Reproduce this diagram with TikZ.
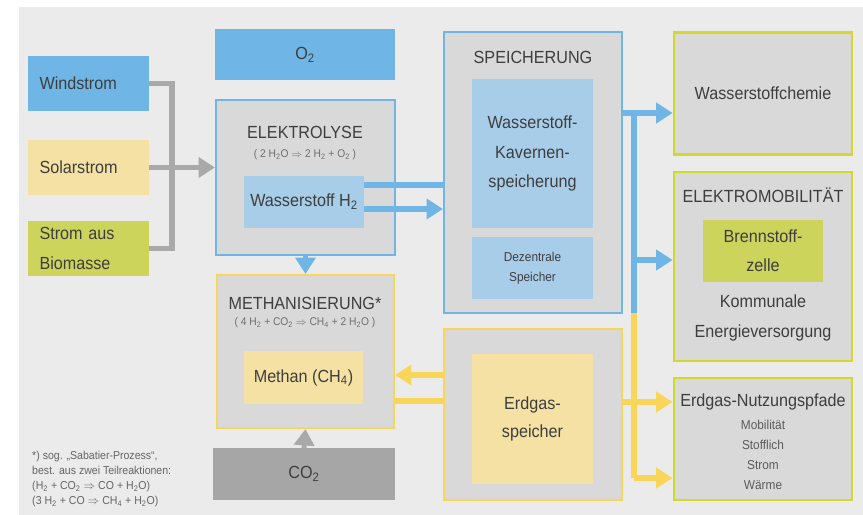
\documentclass[tikz,border=0pt]{standalone}
\usepackage{fontspec}
\setmainfont[FakeStretch=0.92]{Liberation Sans}
\usetikzlibrary{arrows.meta,calc,positioning}

\definecolor{bgc}{HTML}{EBEBEB}
\definecolor{boxgray}{HTML}{D9D9D9}
\definecolor{skyblue}{HTML}{6FB5E5}
\definecolor{paleblue}{HTML}{A8CDE8}
\definecolor{paleyel}{HTML}{F4E1A3}
\definecolor{limefill}{HTML}{CDD45C}
\definecolor{gasyel}{HTML}{F9D65A}
\definecolor{limeline}{HTML}{D4D72C}
\definecolor{arrgray}{HTML}{A9A9A9}
\definecolor{co2gray}{HTML}{A6A6A6}
\definecolor{ink}{HTML}{3E3E3E}

\tikzset{
  panel/.style={draw, line width=1.8pt, inner sep=0pt, align=center, text=ink,
    font=\fontsize{15}{21}\selectfont},
  dims/.style 2 args={minimum width=#1*0.03cm, minimum height=#2*0.03cm},
  boxtext/.style={text=ink, align=center, font=\fontsize{15}{21}\selectfont},
  smalltext/.style={text=ink!85, align=center, font=\fontsize{11}{17}\selectfont},
  formula/.style={text=ink!75, align=center, font=\fontsize{9.5}{11}\selectfont},
  flow/.style={line width=4.3pt},
  >={Triangle[length=14pt,width=17pt]},
}

\begin{document}
\begin{tikzpicture}[x=0.03cm, y=-0.03cm]
    % page and background
    \useasboundingbox (0,0) rectangle (863,515);
    \fill[bgc] (19,7) rectangle (863,515);

    % power sources
    \node[panel, dims={119}{53}, fill=skyblue, draw=skyblue, text width=98*0.03cm, align=left] (wind) at (88.5,83.5) {Windstrom};
    \node[panel, dims={119}{53}, fill=paleyel, draw=paleyel, text width=98*0.03cm, align=left] (solar) at (88.5,167.5) {Solarstrom};
    \node[panel, dims={119}{53}, fill=limefill, draw=limefill, text width=98*0.03cm, align=left, font=\fontsize{15}{25}\selectfont] (bio) at (88.5,248.5) {Strom aus\\Biomasse};

    % electrolysis column
    \node[panel, dims={178}{49}, fill=skyblue, draw=skyblue] (otwo) at (305,54.5) {O\textsubscript{2}};
    \node[panel, dims={179}{155}, fill=boxgray, draw=skyblue] (elek) at (305.5,177.5) {};
    \node[boxtext] (elektitle) at (305,132) {ELEKTROLYSE};
    \node[formula] (elekform) at (305,155) {( 2 H\textsubscript{2}O $\Rightarrow$ 2 H\textsubscript{2} + O\textsubscript{2} )};
    \node[panel, dims={118}{50}, fill=paleblue, draw=paleblue] (htwo) at (304,202) {Wasserstoff H\textsubscript{2}};

    % methanation column
    \node[panel, dims={177}{153}, fill=boxgray, draw=gasyel] (meth) at (305.5,351.5) {};
    \node[boxtext] (methtitle) at (305,303) {METHANISIERUNG*};
    \node[formula] (methform) at (305,323) {( 4 H\textsubscript{2} + CO\textsubscript{2} $\Rightarrow$ CH\textsubscript{4} + 2 H\textsubscript{2}O )};
    \node[panel, dims={117}{51}, fill=paleyel, draw=paleyel] (methan) at (303.5,377.5) {Methan (CH\textsubscript{4})};
    \node[panel, dims={180}{50}, fill=co2gray, draw=co2gray] (cotwo) at (304,474) {CO\textsubscript{2}};

    % footnote
    \node[anchor=north west, align=left, text=ink!80, inner sep=0pt, font=\fontsize{9.8}{12.8}\selectfont] (note) at (32,451)
      {*) sog. „Sabatier-Prozess“,\\best. aus zwei Teilreaktionen:\\(H\textsubscript{2} + CO\textsubscript{2} $\Rightarrow$ CO + H\textsubscript{2}O)\\(3 H\textsubscript{2} + CO $\Rightarrow$ CH\textsubscript{4} + H\textsubscript{2}O)};

    % storage column
    \node[panel, dims={178}{281}, fill=boxgray, draw=skyblue] (spei) at (533,172.5) {};
    \node[boxtext] (speititle) at (533,57) {SPEICHERUNG};
    \node[panel, dims={119}{147}, fill=paleblue, draw=paleblue, font=\fontsize{15}{25}\selectfont] (kav) at (532.5,153.5) {Wasserstoff-\\Kavernen-\\speicherung};
    \node[panel, dims={119}{60}, fill=paleblue, draw=paleblue, font=\fontsize{11}{17}\selectfont] (dez) at (532.5,268) {Dezentrale\\Speicher};
    \node[panel, dims={178}{171}, fill=boxgray, draw=gasyel] (erd) at (533,414.5) {};
    \node[panel, dims={119}{128}, fill=paleyel, draw=paleyel, font=\fontsize{15}{24}\selectfont] (erdsp) at (532.5,419) {Erdgas-\\speicher};

    % uses
    \node[panel, dims={178}{122}, fill=boxgray, draw=limeline, line width=2.4pt] (chem) at (763,93.5) {Wasserstoffchemie};
    \node[panel, dims={178}{189}, fill=boxgray, draw=limeline, line width=2.4pt] (elmo) at (763,266.5) {};
    \node[boxtext] (elmotitle) at (763,195) {ELEKTROMOBILITÄT};
    \node[panel, dims={118}{60}, fill=limefill, draw=limefill, font=\fontsize{15}{25}\selectfont] (fuel) at (763,251) {Brennstoff-\\zelle};
    \node[boxtext, font=\fontsize{15}{25}\selectfont] (komm) at (763,318) {Kommunale\\Energieversorgung};
    \node[panel, dims={178}{122}, fill=boxgray, draw=limeline, line width=2.4pt] (nutz) at (763,439) {};
    \node[boxtext] (nutztitle) at (763,402) {Erdgas-Nutzungspfade};
    \node[smalltext] (nutzlist) at (763,455) {Mobilität\\Stofflich\\Strom\\Wärme};

    % gray power lines
    \coordinate (gbus) at (172,0);
    \draw[flow, arrgray] (wind.east) -| (gbus |- bio.east) -- (bio.east);
    \draw[flow, arrgray, ->] (solar.east) -- (elek.west |- solar.east);
    \draw[flow, arrgray, ->] (cotwo.north) -- (meth.south);

    % hydrogen lines
    \coordinate (hup) at (0,185);
    \coordinate (hlo) at (0,209);
    \draw[flow, skyblue] (hup -| htwo.east) -- (hup -| spei.west);
    \draw[flow, skyblue, ->] (hlo -| htwo.east) -- (hlo -| spei.west);
    \draw[flow, skyblue, ->] (elek.south) -- (meth.north);

    \coordinate (bsplit) at (634,113);
    \coordinate (bmid) at (634,260);
    \coordinate (ysplit) at (634,313);
    \coordinate (ymid) at (634,402);
    \coordinate (yend) at (634,478);
    \draw[flow, skyblue, ->] (bsplit -| spei.east) -- (bsplit -| chem.west);
    \draw[flow, skyblue] (bsplit) -- (ysplit);
    \draw[flow, skyblue, ->] (bmid) -- (bmid -| elmo.west);

    % natural gas lines
    \coordinate (mup) at (0,375);
    \coordinate (mlo) at (0,401);
    \draw[flow, gasyel, ->] (mup -| erd.west) -- (mup -| meth.east);
    \draw[flow, gasyel] (mlo -| meth.east) -- (mlo -| erd.west);
    \draw[flow, gasyel] (ysplit) -- (yend);
    \draw[flow, gasyel, ->] (ymid -| erd.east) -- (ymid -| nutz.west);
    \draw[flow, gasyel, ->] (yend) -- (yend -| nutz.west);
\end{tikzpicture}
\end{document}
